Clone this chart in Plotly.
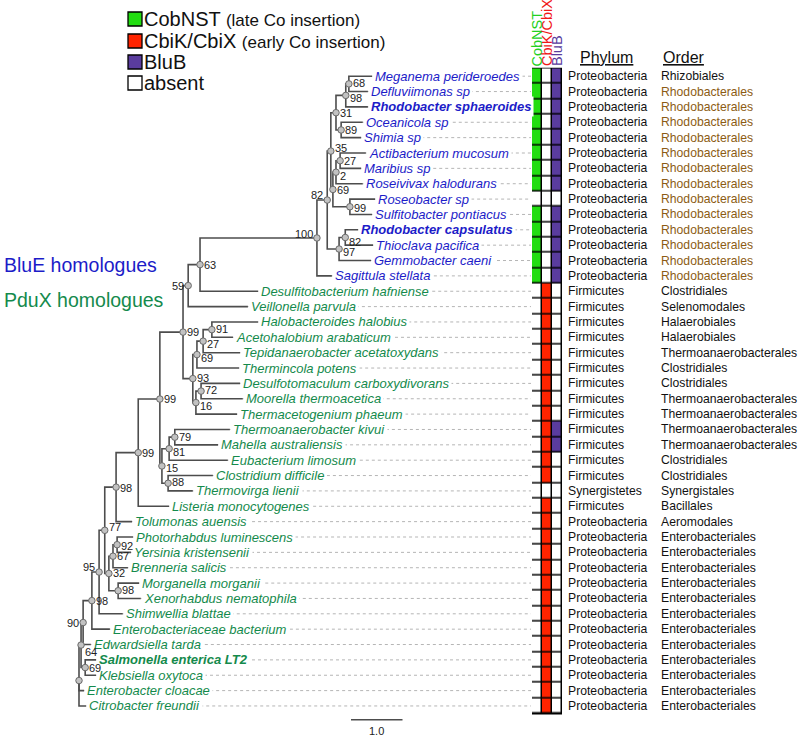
import plotly.graph_objects as go

# ---------------- data ----------------
taxa = [
    "Meganema perideroedes", "Defluviimonas sp", "Rhodobacter sphaeroides",
    "Oceanicola sp", "Shimia sp", "Actibacterium mucosum", "Maribius sp",
    "Roseivivax halodurans", "Roseobacter sp", "Sulfitobacter pontiacus",
    "Rhodobacter capsulatus", "Thioclava pacifica", "Gemmobacter caeni",
    "Sagittula stellata", "Desulfitobacterium hafniense", "Veillonella parvula",
    "Halobacteroides halobius", "Acetohalobium arabaticum",
    "Tepidanaerobacter acetatoxydans", "Thermincola potens",
    "Desulfotomaculum carboxydivorans", "Moorella thermoacetica",
    "Thermacetogenium phaeum", "Thermoanaerobacter kivui",
    "Mahella australiensis", "Eubacterium limosum", "Clostridium difficile",
    "Thermovirga lienii", "Listeria monocytogenes", "Tolumonas auensis",
    "Photorhabdus luminescens", "Yersinia kristensenii", "Brenneria salicis",
    "Morganella morganii", "Xenorhabdus nematophila", "Shimwellia blattae",
    "Enterobacteriaceae bacterium", "Edwardsiella tarda",
    "Salmonella enterica LT2", "Klebsiella oxytoca", "Enterobacter cloacae",
    "Citrobacter freundii",
]
homologue = ["BluE"] * 14 + ["PduX"] * 28
highlighted = ["Rhodobacter sphaeroides", "Rhodobacter capsulatus", "Salmonella enterica LT2"]

# distance of each tip from the root (branch-length units)
tip_depth = [5.69, 5.61, 5.61, 5.51, 5.48, 5.57, 5.48, 5.51, 5.75, 5.69,
             5.42, 5.71, 5.67, 4.91, 3.48, 3.28, 3.48, 2.99, 3.13, 3.11,
             3.13, 3.18, 3.07, 2.93, 2.70, 2.89, 2.60, 2.21, 1.75, 1.03,
             1.05, 1.01, 0.95, 1.17, 1.20, 0.85, 0.60, 0.23, 0.33, 0.33,
             0.10, 0.14]

phylum = (["Proteobacteria"] * 14 + ["Firmicutes"] * 13 + ["Synergistetes"]
          + ["Firmicutes"] + ["Proteobacteria"] * 13)
order = (["Rhizobiales"] + ["Rhodobacterales"] * 13
         + ["Clostridiales", "Selenomodales", "Halaerobiales", "Halaerobiales",
            "Thermoanaerobacterales", "Clostridiales", "Clostridiales",
            "Thermoanaerobacterales", "Thermoanaerobacterales",
            "Thermoanaerobacterales", "Thermoanaerobacterales", "Clostridiales",
            "Clostridiales", "Synergistales", "Bacillales", "Aeromodales"]
         + ["Enterobacteriales"] * 12)

gene_columns = ["CobNST", "CbiK/CbiX", "BluB"]
cobnst = [1] * 8 + [0] + [1] * 5 + [0] * 28
cbik_cbix = [0] * 14 + [1] * 13 + [0] + [1] * 14
blub = [1] * 8 + [0] + [1] * 5 + [0] * 9 + [1, 1] + [0] * 17

# internal nodes: id, children, depth from root, bootstrap support
node_ids = ["root", "n64", "n90", "n98c", "n95", "n77", "n98a", "n99c", "n99b",
            "n99a", "n59", "n63", "n100", "n82a", "n35", "n31", "n98d", "n68",
            "n89", "n69a", "n2", "n27a", "n99d", "n97", "n82b", "n93", "n69b",
            "n27b", "n91", "n16", "n72", "n15", "n81", "n79", "n88", "n32",
            "n67", "n92", "n98b", "n69c"]
node_children = [
    ["n64", "Enterobacter cloacae", "Citrobacter freundii"],
    ["n90", "n69c"],
    ["n98c", "Edwardsiella tarda"],
    ["n95", "Enterobacteriaceae bacterium"],
    ["n77", "Shimwellia blattae"],
    ["n98a", "n32"],
    ["n99c", "Tolumonas auensis"],
    ["n99b", "Listeria monocytogenes"],
    ["n99a", "n15"],
    ["n59", "n93"],
    ["n63", "Veillonella parvula"],
    ["n100", "Desulfitobacterium hafniense"],
    ["n82a", "Sagittula stellata"],
    ["n35", "n97"],
    ["n31", "n69a"],
    ["n98d", "n89"],
    ["n68", "Rhodobacter sphaeroides"],
    ["Meganema perideroedes", "Defluviimonas sp"],
    ["Oceanicola sp", "Shimia sp"],
    ["n2", "n99d"],
    ["n27a", "Roseivivax halodurans"],
    ["Actibacterium mucosum", "Maribius sp"],
    ["Roseobacter sp", "Sulfitobacter pontiacus"],
    ["n82b", "Gemmobacter caeni"],
    ["Rhodobacter capsulatus", "Thioclava pacifica"],
    ["n69b", "n16"],
    ["n27b", "Thermincola potens"],
    ["n91", "Tepidanaerobacter acetatoxydans"],
    ["Halobacteroides halobius", "Acetohalobium arabaticum"],
    ["n72", "Thermacetogenium phaeum"],
    ["Desulfotomaculum carboxydivorans", "Moorella thermoacetica"],
    ["n81", "n88"],
    ["n79", "Eubacterium limosum"],
    ["Thermoanaerobacter kivui", "Mahella australiensis"],
    ["Clostridium difficile", "Thermovirga lienii"],
    ["n67", "n98b"],
    ["n92", "Brenneria salicis"],
    ["Photorhabdus luminescens", "Yersinia kristensenii"],
    ["Morganella morganii", "Xenorhabdus nematophila"],
    ["Salmonella enterica LT2", "Klebsiella oxytoca"],
]
node_depth = [0.00, 0.04, 0.08, 0.25, 0.39, 0.50, 0.72, 1.15, 1.57,
              2.02, 2.12, 2.35, 4.62, 4.82, 4.89, 4.99, 5.18, 5.24,
              5.09, 4.93, 4.99, 5.07, 5.26, 5.05, 5.17, 2.21, 2.29,
              2.41, 2.58, 2.27, 2.37, 1.61, 1.75, 1.86, 1.73, 0.58,
              0.66, 0.74, 0.76, 0.12]
node_support = [None, 64, 90, 98, 95, 77, 98, 99, 99,
                99, 59, 63, 100, 82, 35, 31, 98, 68,
                89, 69, 2, 27, 99, 97, 82, 93, 69,
                27, 91, 16, 72, 15, 81, 79, 88, 32,
                67, 92, 98, 69]

scale_bar_length = 1.0

# ---------------- styling / geometry ----------------
W, H = 800, 738
PX_PER_UNIT = 51.5
ROOT_PX = 79
ROW0_PX, ROW_STEP = 76.2, 15.36
GRID_LEFT_PX, GRID_RIGHT_PX = 532, 562
X_RANGE = [-ROOT_PX / PX_PER_UNIT, (W - ROOT_PX) / PX_PER_UNIT]
Y_RANGE = [(H - ROW0_PX) / ROW_STEP, -ROW0_PX / ROW_STEP]


def u_from_px(p):
    return (p - ROOT_PX) / PX_PER_UNIT


def row_from_px(p):
    return (p - ROW0_PX) / ROW_STEP


def paper_x(p):
    return p / W


def paper_y(p):
    return 1 - p / H


FONT = "Liberation Sans, Arial, sans-serif"
BLUE = "#1c1cc8"
GREEN_TXT = "#148a4c"
BRANCH = "#4d4d4d"
NODE_FILL = "#c2c2c2"
NODE_LINE = "#6a6a6a"
DASH_COL = "#b5b5b5"
BROWN = "#8c5c14"
CELL_COLORS = {"absent": "#ffffff", "CobNST": "#22dd11", "CbiK/CbiX": "#ff2400", "BluB": "#5a3c9e"}
HEAD_COLORS = {"CobNST": "#22d022", "CbiK/CbiX": "#f01818", "BluB": "#5a3c9e"}

# bootstrap label placement (side, vertical nudge in px, + = down)
support_nudge = {
    "n68": ("R", -1), "n98d": ("R", 3), "n35": ("R", -3), "n2": ("R", 4),
    "n69a": ("R", 1), "n99d": ("R", 1), "n82a": ("L", -5), "n100": ("L", -4),
    "n82b": ("R", 5), "n97": ("R", 3), "n59": ("L", 0), "n91": ("R", -1),
    "n27b": ("R", 3), "n69b": ("R", 3), "n93": ("R", -1), "n72": ("R", -1),
    "n16": ("R", 3), "n81": ("R", 3), "n15": ("R", 2), "n88": ("R", -1),
    "n98a": ("R", 1), "n77": ("R", -3), "n92": ("R", 1), "n95": ("L", -5),
    "n98b": ("R", -1), "n90": ("L", 0), "n64": ("R", 7),
}

# ---------------- tree geometry from data ----------------
xpos = dict(zip(taxa, tip_depth))
xpos.update(dict(zip(node_ids, node_depth)))
ypos = {name: i for i, name in enumerate(taxa)}
kids = dict(zip(node_ids, node_children))


def get_y(n):
    if n not in ypos:
        ys = [get_y(c) for c in kids[n]]
        ypos[n] = sum(ys) / len(ys)
    return ypos[n]


for n in node_ids:
    get_y(n)

bx, by = [], []
for n in node_ids:
    for c in kids[n]:
        bx += [xpos[n], xpos[n], xpos[c], None]
        by += [ypos[n], ypos[c], ypos[c], None]

grid_left_u = u_from_px(GRID_LEFT_PX - 1)
dx, dy = [], []
for i, name in enumerate(taxa):
    dx += [xpos[name], grid_left_u, None]
    dy += [i, i, None]

fig = go.Figure()

fig.add_trace(go.Scatter(x=dx, y=dy, mode="lines", hoverinfo="skip",
                         line=dict(color=DASH_COL, width=1, dash="3px,3px"),
                         showlegend=False))
fig.add_trace(go.Scatter(x=bx, y=by, mode="lines", hoverinfo="skip",
                         line=dict(color=BRANCH, width=1.6),
                         showlegend=False))
fig.add_trace(go.Scatter(x=[xpos[n] for n in node_ids], y=[ypos[n] for n in node_ids],
                         mode="markers", hoverinfo="skip", showlegend=False,
                         marker=dict(size=6.5, color=NODE_FILL,
                                     line=dict(color=NODE_LINE, width=1))))

# scale bar
sb_start = u_from_px(351)
sb_row = len(taxa) - 1 + 0.9
fig.add_trace(go.Scatter(x=[sb_start, sb_start + scale_bar_length], y=[sb_row, sb_row],
                         mode="lines", hoverinfo="skip", showlegend=False,
                         line=dict(color=BRANCH, width=1.5)))

# presence / absence grid
z = []
for a, b, c in zip(cobnst, cbik_cbix, blub):
    z.append([1 if a else 0, 2 if b else 0, 3 if c else 0])
colorscale = [[0, CELL_COLORS["absent"]], [0.1667, CELL_COLORS["absent"]],
              [0.1667, CELL_COLORS["CobNST"]], [0.5, CELL_COLORS["CobNST"]],
              [0.5, CELL_COLORS["CbiK/CbiX"]], [0.8333, CELL_COLORS["CbiK/CbiX"]],
              [0.8333, CELL_COLORS["BluB"]], [1, CELL_COLORS["BluB"]]]
fig.add_trace(go.Heatmap(z=z, x=list(range(len(gene_columns))), y=list(range(len(taxa))),
                         xaxis="x2", yaxis="y", zmin=0, zmax=3, colorscale=colorscale,
                         showscale=False, xgap=1.5, ygap=1.5, hoverinfo="skip"))

shapes = [dict(type="rect", xref="x2", yref="y", x0=-0.5, x1=len(gene_columns) - 0.5,
               y0=-0.5, y1=len(taxa) - 0.5, fillcolor="black",
               line=dict(color="black", width=1.5), layer="below")]

ann = []
# leaf label masks (hide dashed lines under text)
leaf_texts = []
for i, name in enumerate(taxa):
    t = "<i>%s</i>" % name
    if name in highlighted:
        t = "<b>%s</b>" % t
    leaf_texts.append(t)
    ann.append(dict(x=xpos[name], y=i, xref="x", yref="y", text=t, showarrow=False,
                    xanchor="left", yanchor="middle", borderpad=2, bgcolor="white",
                    font=dict(family=FONT, size=13, color="rgba(0,0,0,0)")))
for i, name in enumerate(taxa):
    col = BLUE if homologue[i] == "BluE" else GREEN_TXT
    ann.append(dict(x=xpos[name], y=i, xref="x", yref="y", text=leaf_texts[i],
                    showarrow=False, xanchor="left", yanchor="middle", borderpad=2,
                    font=dict(family=FONT, size=13, color=col)))

# bootstrap labels
for n, s in zip(node_ids, node_support):
    if s is None:
        continue
    side, nud = support_nudge.get(n, ("R", 0))
    ann.append(dict(x=xpos[n], y=ypos[n], xref="x", yref="y", text=str(s),
                    showarrow=False, xanchor="left" if side == "R" else "right",
                    yanchor="middle", xshift=3 if side == "R" else -3, yshift=-nud,
                    borderpad=0, font=dict(family=FONT, size=11, color="#222222")))

# phylum / order columns
for i in range(len(taxa)):
    ann.append(dict(x=paper_x(567), y=i, xref="paper", yref="y", text=phylum[i],
                    showarrow=False, xanchor="left", yanchor="middle", borderpad=0,
                    font=dict(family=FONT, size=12.2, color="#111111")))
    ann.append(dict(x=paper_x(660), y=i, xref="paper", yref="y", text=order[i],
                    showarrow=False, xanchor="left", yanchor="middle", borderpad=0,
                    font=dict(family=FONT, size=12.2,
                              color=BROWN if order[i] == "Rhodobacterales" else "#111111")))

for hx, htxt in [(579, "Phylum"), (662, "Order")]:
    ann.append(dict(x=paper_x(hx), y=paper_y(57), xref="paper", yref="paper",
                    text="<u>%s</u>" % htxt, showarrow=False, xanchor="left",
                    yanchor="middle", borderpad=0,
                    font=dict(family=FONT, size=16, color="#111111")))

# rotated gene column headers
for j, g in enumerate(gene_columns):
    ann.append(dict(x=j, y=-0.5, xref="x2", yref="y", text=g, showarrow=False,
                    textangle=-90, xanchor="center", yanchor="bottom", yshift=1,
                    borderpad=0, font=dict(family=FONT, size=14.5, color=HEAD_COLORS[g])))

# homologue group labels
ann.append(dict(x=paper_x(2), y=paper_y(265), xref="paper", yref="paper",
                text="BluE homologues", showarrow=False, xanchor="left",
                yanchor="middle", font=dict(family=FONT, size=19.5, color=BLUE)))
ann.append(dict(x=paper_x(2), y=paper_y(300), xref="paper", yref="paper",
                text="PduX homologues", showarrow=False, xanchor="left",
                yanchor="middle", font=dict(family=FONT, size=19.5, color=GREEN_TXT)))

# legend
legend_items = [("CobNST", "(late Co insertion)", "CobNST"),
                ("CbiK/CbiX", "(early Co insertion)", "CbiK/CbiX"),
                ("BluB", "", "BluB"),
                ("absent", "", "absent")]
legend_rows_px = [19, 41, 62, 83]
for (main, sub, key), ry in zip(legend_items, legend_rows_px):
    shapes.append(dict(type="rect", xref="paper", yref="paper",
                       x0=paper_x(128), x1=paper_x(142), y0=paper_y(ry + 7), y1=paper_y(ry - 7),
                       fillcolor=CELL_COLORS[key], line=dict(color="black", width=1.3)))
    txt = main if not sub else "%s <span style='font-size:17px'>%s</span>" % (main, sub)
    ann.append(dict(x=paper_x(143), y=paper_y(ry), xref="paper", yref="paper", text=txt,
                    showarrow=False, xanchor="left", yanchor="middle", borderpad=0,
                    font=dict(family=FONT, size=20, color="#111111")))

# scale bar label
ann.append(dict(x=sb_start + scale_bar_length / 2, y=row_from_px(731), xref="x", yref="y",
                text="%.1f" % scale_bar_length, showarrow=False, xanchor="center",
                yanchor="middle", font=dict(family=FONT, size=11, color="#222222")))

fig.update_layout(
    width=W, height=H, margin=dict(l=0, r=0, t=0, b=0),
    paper_bgcolor="white", plot_bgcolor="white", showlegend=False,
    xaxis=dict(domain=[0, 1], range=X_RANGE, visible=False, fixedrange=True),
    xaxis2=dict(domain=[paper_x(GRID_LEFT_PX), paper_x(GRID_RIGHT_PX)],
                range=[-0.5, len(gene_columns) - 0.5], anchor="y", visible=False),
    yaxis=dict(domain=[0, 1], range=Y_RANGE, visible=False, fixedrange=True),
    shapes=shapes, annotations=ann,
)

fig.write_html("out.html", config={"displayModeBar": False},
               post_script="document.body.style.margin='0px';")
